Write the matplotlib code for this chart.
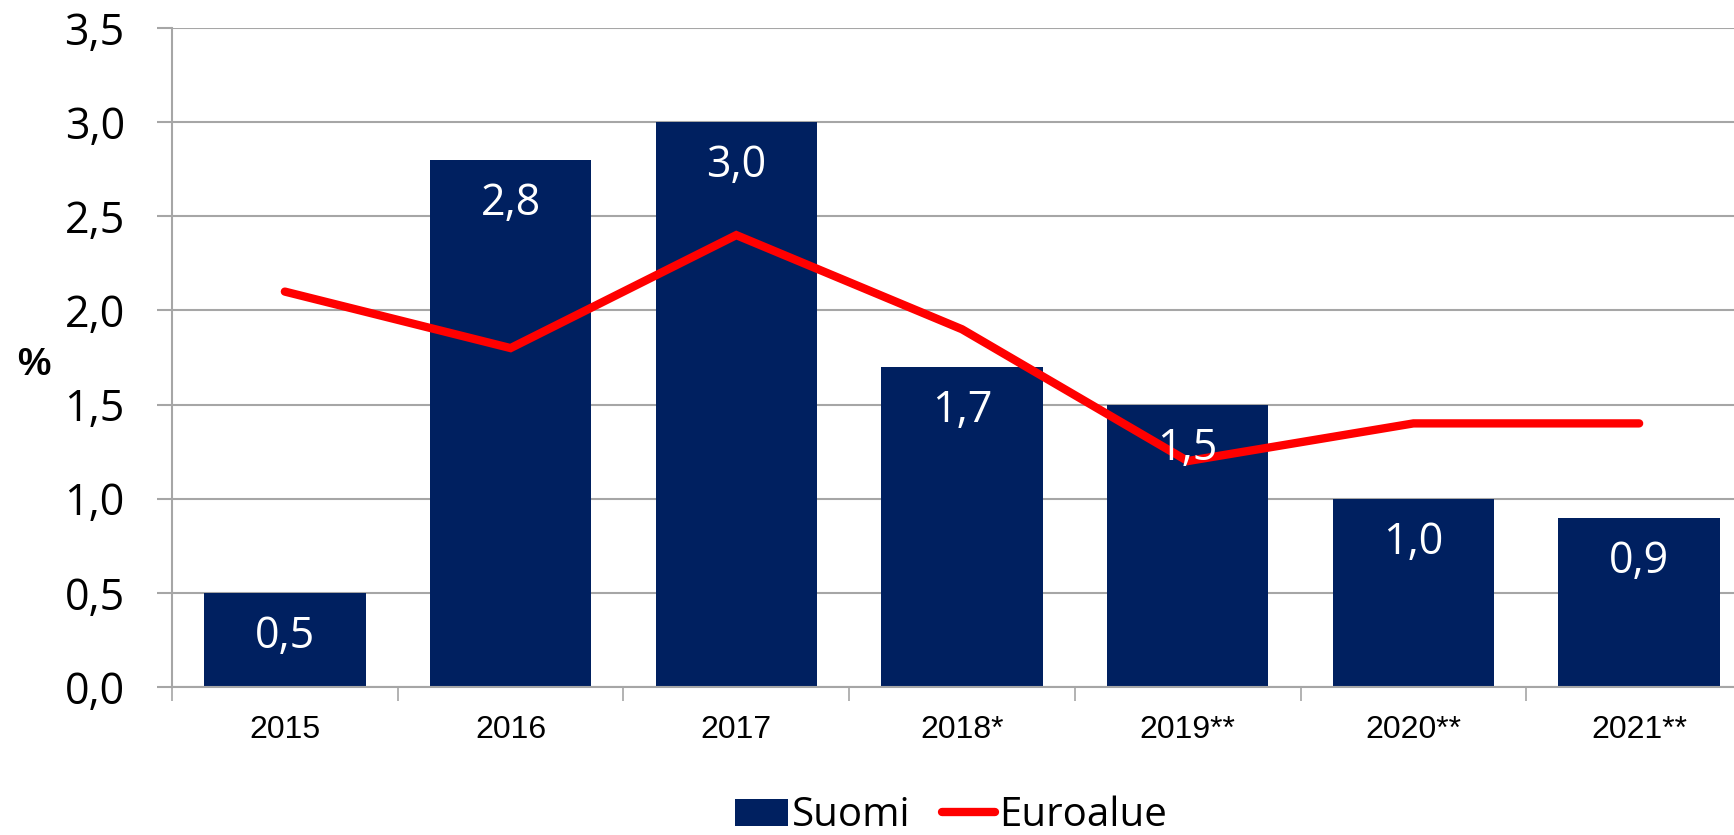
import matplotlib
matplotlib.use("Agg")
import matplotlib.pyplot as plt
import numpy as np

categories = ["2015", "2016", "2017", "2018*", "2019**", "2020**", "2021**"]
suomi = [0.5, 2.8, 3.0, 1.7, 1.5, 1.0, 0.9]
euroalue = [2.1, 1.8, 2.4, 1.9, 1.2, 1.4, 1.4]
yticks = [0.0, 0.5, 1.0, 1.5, 2.0, 2.5, 3.0, 3.5]

W, H, DPI = 1734, 835, 100
fig = plt.figure(figsize=(W / DPI, H / DPI), dpi=DPI)
ax = fig.add_axes([172 / W, 1 - 687 / H, (1752 - 172) / W, (687 - 28) / H])

x = np.arange(len(categories))
navy = "#002060"
grid_c = "#A6A6A6"

bars = ax.bar(x, suomi, width=0.715, color=navy, zorder=2, label="Suomi")
line, = ax.plot(x, euroalue, color="#FF0000", lw=6, solid_capstyle="round",
                solid_joinstyle="miter", zorder=3, label="Euroalue")

for xi, v in zip(x, suomi):
    ax.annotate(f"{v:.1f}".replace(".", ","), (xi, v), xytext=(0, -44),
                textcoords="offset pixels", ha="center", va="center",
                color="white", fontsize=31, family="Open Sans", zorder=4)

ax.set_xlim(-0.5, len(categories) - 0.5)
ax.set_ylim(0, 3.5)
ax.set_yticks(yticks)
ax.set_yticklabels([f"{t:.1f}".replace(".", ",") for t in yticks],
                   fontsize=31, family="Open Sans")
ax.yaxis.grid(True, color=grid_c, lw=1.5, zorder=0)
ax.set_axisbelow(True)
ax.tick_params(axis="y", length=11, color=grid_c, width=1.5, pad=23)

ax.set_xticks(x)
ax.set_xticklabels(categories, fontsize=23, family="Liberation Sans")
ax.set_xticks(np.arange(-0.5, len(categories) + 0.5, 1), minor=True)
ax.tick_params(axis="x", which="major", length=0, pad=20)
ax.tick_params(axis="x", which="minor", length=10, color=grid_c, width=1.2)

for s in ["top", "right"]:
    ax.spines[s].set_visible(False)
ax.spines["left"].set_color(grid_c)
ax.spines["left"].set_linewidth(1.5)
ax.spines["bottom"].set_color(grid_c)
ax.spines["bottom"].set_linewidth(1.5)

fig.text(34 / W, 1 - 365 / H, "%", fontsize=27, fontweight="bold",
         family="Liberation Sans", ha="center", va="center")

leg = fig.legend([bars, line], ["Suomi", "Euroalue"], loc="center",
                 bbox_to_anchor=(951 / W, 1 - 816 / H),
                 ncol=2, frameon=False,
                 prop={"family": "Open Sans", "size": 29},
                 handlelength=1.3, handleheight=0.65, handletextpad=0.1,
                 columnspacing=0.8, borderpad=0)

fig.savefig("out.png", dpi=DPI)
